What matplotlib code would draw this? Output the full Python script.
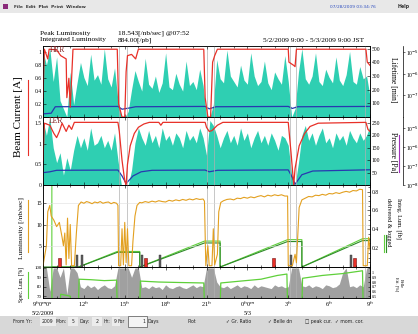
import numpy as np
import matplotlib.pyplot as plt
from matplotlib.lines import Line2D
from matplotlib.patches import Rectangle
from matplotlib.ticker import MultipleLocator, NullLocator

plt.rcParams['font.family'] = ['Liberation Serif', 'DejaVu Serif']
plt.rcParams['font.size'] = 4
plt.rcParams['axes.linewidth'] = 0.5

# time axis: hours after 5/2/2009 9:00 JST
x_ticks = [0, 3, 6, 9, 12, 15, 18, 21, 24]
x_labels = ['9$^h$0$^m$0$^s$', '12$^h$', '15$^h$', '18$^h$', '21$^h$',
            '0$^h$0$^m$', '3$^h$', '6$^h$', '9$^h$']
date_ticks = [0, 15]
date_labels = ['5/2/2009', '5/3']

# 15 minute samples
samples = np.arange(97) * 0.25

# HER beam current [A]
her_cur_t = [0.0, 0.1, 0.35, 0.45, 1.0, 1.3, 1.7, 1.75, 1.9, 2.0, 2.2, 5.45, 5.55, 5.8, 6.0,
             6.1, 6.2, 6.5, 6.8, 7.0, 11.8, 11.9, 12.1, 12.3, 12.45, 12.6, 12.8, 18.0, 18.05,
             18.4, 18.5, 18.6, 23.7, 23.8, 24.0]
her_cur = [0.3, 1.05, 0.9, 1.05, 1.04, 0.95, 0.9, 0.3, 0.6, 0.15, 1.05, 1.05, 0.2, 0.0, 0.0,
           0.7, 0.95, 0.97, 0.9, 1.05, 1.05, 0.3, 0.0, 0.0, 0.85, 0.95, 1.05, 1.05, 0.85,
           0.8, 0.78, 1.05, 1.05, 0.85, 0.8]

# LER beam current [A]
ler_cur_t = [0.0, 0.1, 0.5, 0.8, 1.0, 1.2, 1.4, 1.7, 1.9, 2.1, 2.3, 5.5, 5.6, 5.8, 6.0, 6.1,
             6.2, 6.4, 6.7, 7.0, 7.4, 7.8, 8.5, 8.65, 8.8, 11.9, 12.0, 12.2, 12.4, 12.8, 13.2,
             18.0, 18.2, 18.4, 18.5, 18.8, 19.2, 19.6, 20.2, 23.7, 23.85, 24.0]
ler_cur = [0.6, 1.5, 1.45, 1.25, 1.15, 1.3, 1.5, 1.3, 1.45, 1.35, 1.52, 1.52, 1.3, 0.6, 0.1, 0.0,
           0.5, 0.95, 1.25, 1.4, 1.48, 1.52, 1.52, 1.45, 1.52, 1.52, 1.4, 1.3, 1.32, 1.45, 1.52,
           1.52, 0.8, 0.0, 0.4, 0.95, 1.25, 1.42, 1.5, 1.52, 1.35, 1.3]

# lifetimes [min], 15 min samples
her_life = [480, 380, 500, 260, 440, 120, 60, 0, 330, 90, 250, 400, 290, 230, 460, 270, 310,
            240, 500, 280, 220, 360, 120, 0, 0, 40, 200, 340, 260, 190, 430, 240, 210, 300,
            180, 250, 470, 220, 200, 320, 240, 190, 410, 230, 260, 200, 350, 230, 0, 0, 90,
            420, 280, 250, 490, 300, 260, 220, 380, 270, 240, 470, 300, 230, 260, 410, 250,
            200, 330, 280, 240, 450, 260, 0, 60, 330, 500, 280, 240, 300, 470, 260, 230, 350,
            290, 250, 440, 270, 230, 310, 480, 260, 240, 370, 280, 300, 150]
ler_life = [260, 200, 270, 150, 90, 130, 40, 110, 60, 140, 200, 150, 190, 140, 230, 160, 170,
            200, 150, 180, 140, 210, 100, 0, 0, 0, 60, 170, 230, 190, 160, 220, 170, 200, 150,
            230, 180, 200, 160, 210, 190, 150, 220, 180, 200, 170, 230, 190, 120, 260, 240,
            200, 150, 190, 220, 170, 200, 160, 230, 180, 210, 150, 190, 220, 170, 200, 160,
            210, 180, 140, 200, 190, 160, 40, 0, 90, 200, 240, 180, 210, 160, 200, 230, 170,
            190, 150, 210, 180, 200, 160, 220, 190, 170, 210, 180, 200, 240]

# vacuum pressure [Pa]
her_p_t = [0.0, 0.6, 0.9, 5.5, 5.8, 6.3, 6.8, 11.9, 12.2, 12.7, 18.0, 18.3, 18.7, 24.0]
her_p = [1.4e-8, 1.5e-8, 3.0e-8, 3.1e-8, 2.3e-8, 2.6e-8, 3.0e-8, 3.1e-8, 2.4e-8, 3.0e-8,
         3.1e-8, 2.5e-8, 3.0e-8, 3.1e-8]
ler_p_t = [0.0, 0.5, 1.0, 5.5, 5.8, 6.1, 6.6, 7.2, 8.0, 11.9, 12.2, 12.8, 18.0, 18.3, 18.5,
           19.0, 19.8, 24.0]
ler_p = [4.5e-8, 5e-8, 6e-8, 6.2e-8, 3e-8, 1.2e-8, 3e-8, 5e-8, 6e-8, 6.2e-8, 5e-8, 6e-8,
         6.3e-8, 2.5e-8, 1.1e-8, 3.5e-8, 5.5e-8, 6.4e-8]

# luminosity [/nb/sec]
lum_t = [0.0, 0.25, 0.35, 0.5, 0.6, 0.8, 1.0, 1.2, 1.4, 1.5, 1.6, 1.7, 1.8, 1.9, 2.0, 2.1, 2.3,
         2.45, 2.6,
         2.8, 3.0, 3.2, 3.4, 3.6, 3.8, 4.0, 4.2, 4.4, 4.6, 4.8, 5.0, 5.2, 5.4,
         5.5, 5.55, 5.7, 5.8, 5.9, 6.0, 6.1, 6.2, 6.3, 6.5, 6.6, 6.75, 6.9, 7.1,
         7.25, 7.5, 7.75, 8.0, 8.25, 8.5, 8.75, 9.0, 9.25, 9.5, 9.75, 10.0, 10.25, 10.5, 10.75,
         11.0, 11.25, 11.5, 11.75,
         11.85, 11.95, 12.1, 12.2, 12.4, 12.5, 12.6, 12.8, 12.9, 13.05,
         13.25, 13.5, 13.75, 14.0, 14.25, 14.5, 14.75, 15.0, 15.25, 15.5, 15.75, 16.0, 16.25,
         16.5, 16.75, 17.0, 17.25, 17.5, 17.75,
         17.95, 18.0, 18.3, 18.5, 18.6, 18.8, 19.0,
         19.25, 19.5, 19.75, 20.0, 20.25, 20.5, 20.75, 21.0, 21.25, 21.5, 21.75, 22.0, 22.25,
         22.5, 22.75, 23.0, 23.25,
         23.45, 23.5, 23.8, 23.9, 24.0]
lum = [0.3, 5, 13, 14.5, 12, 11, 9.5, 10.5, 7, 5, 8, 0.5, 11.5, 2, 10, 0.3, 0.3, 8, 14.5,
       15.3, 15.0, 15.4, 15.2, 14.9, 15.3, 15.1, 15.4, 15.0, 15.2, 15.3, 14.9, 15.2, 15.0,
       14.5, 0.3, 0.3, 9, 0.5, 10.5, 1, 9, 0.3, 0.3, 6, 12, 14.5, 15.2,
       15.1, 15.4, 15.2, 15.5, 15.3, 15.6, 15.4, 15.3, 15.7, 15.5, 15.8, 15.6, 15.9, 15.7, 16.0,
       15.8, 16.1, 15.9, 16.0,
       15.5, 0.3, 5, 0.3, 0.3, 9, 0.5, 3, 13, 15.2,
       15.6, 15.9, 16.0, 15.8, 16.2, 16.1, 16.4, 16.2, 16.5, 16.3, 16.6, 16.8, 16.5, 16.9, 16.7,
       17.0, 16.8, 17.0, 16.7,
       16.7, 0.3, 0.3, 3, 1, 14, 15.8,
       16.2, 16.6, 16.5, 16.9, 16.8, 17.1, 16.9, 17.3, 17.2, 17.5, 17.3, 17.6, 17.8, 17.6, 18.0,
       17.9, 18.3,
       18.2, 0.3, 0.3, 7, 4]

# integrated luminosity [/fb]
deliv_t = [0.0, 0.65, 0.65, 2.6, 5.45, 7.1, 7.1, 11.85, 13.0, 13.0, 17.95, 19.0, 19.0, 23.45, 24.0]
deliv = [0.9, 0.9, 0.0, 0.0, 0.165, 0.165, 0.0, 0.275, 0.275, 0.0, 0.29, 0.29, 0.0, 0.3, 0.3]
logged_t = [0.0, 2.6, 5.45, 7.1, 7.1, 11.85, 13.0, 13.0, 17.95, 19.0, 19.0, 23.45, 24.0]
logged = [0.0, 0.0, 0.155, 0.155, 0.0, 0.255, 0.255, 0.0, 0.27, 0.27, 0.0, 0.28, 0.28]

# beam aborts
abort_t = [1.2, 2.5, 2.85, 7.25, 7.55, 8.6, 16.9, 18.2, 22.6, 22.85]
abort_ring = ['HER', 'LER', 'LER', 'LER', 'HER', 'LER', 'HER', 'LER', 'LER', 'HER']

# injection marks
inj_t = [5.6, 6.15, 12.0, 12.55, 18.1, 18.55, 23.6]

# specific luminosity [%]
spec_grey = [100, 100, 75, 100, 100, 90, 100, 72, 100, 100, 95,
             80, 78, 82, 79, 81, 77, 80, 82, 79, 78, 81,
             100, 100, 100, 100, 90, 100, 100,
             79, 80, 78, 81, 79, 80, 77, 82, 79, 78, 80, 81, 79, 78, 80, 82, 79, 81, 80,
             100, 100, 100, 85,
             80, 79, 81, 78, 80, 82, 79, 81, 80, 78, 82, 79, 81, 80, 79, 78, 82, 80, 81, 79, 80,
             100, 100, 100,
             81, 80, 82, 79, 81, 80, 78, 82, 81, 79, 80, 83, 95, 100, 80, 81, 79, 82, 80, 100, 100]
spec_t = [0.0, 0.65, 0.66, 1.25, 1.3, 2.0, 2.05, 2.6, 2.65, 3.5, 4.5, 5.4, 5.45, 7.1, 7.15, 8.5,
          10.0, 11.8, 11.85, 13.0, 13.05, 14.5, 16.0, 17.2, 17.9, 17.95, 19.0, 19.05, 20.5, 22.0,
          23.45, 23.5, 24.0]
spec = [100.5, 100.5, 60, 60, 72, 70, 60, 60, 88, 87.5, 86.5, 87, 60, 60, 86, 85, 84.5, 84, 60,
        60, 84, 86, 88, 92, 93.5, 60, 60, 89, 92, 94, 97, 60, 60]

CYAN = '#2fcfb2'
RED = '#e83028'
BLUE = '#2838b0'
ORANGE = '#e3a020'
DKGREEN = '#2f8a2a'
LTGREEN = '#5fd03a'
PURPLE = '#a030b8'

fig = plt.figure(figsize=(4.18, 3.34), dpi=100)


def fx(x):
    return x / 418


def fy(y):
    return 1 - y / 334


X0, X1 = 43, 370


def panel(top, bottom):
    return fig.add_axes([fx(X0), fy(bottom), fx(X1) - fx(X0), (bottom - top) / 334])


def style_x(ax, labels=False):
    ax.set_xlim(0, 24)
    ax.set_xticks(x_ticks)
    ax.xaxis.set_minor_locator(MultipleLocator(1))
    ax.tick_params(axis='x', which='both', direction='in', top=True, labelbottom=labels,
                   length=2, width=0.4, pad=1.5)
    ax.tick_params(axis='x', which='minor', length=1.2)
    ax.tick_params(axis='y', which='both', direction='in', length=2, width=0.4, pad=1)
    for t in inj_t:
        ax.axvline(t, color='#b0b0b0', lw=0.5, zorder=0.5)


def log_axis(ax, top):
    ax.set_yscale('log')
    ax.set_ylim(1e-8, top)
    ax.spines['right'].set_position(('axes', 1.1))
    for s in ['left', 'top', 'bottom']:
        ax.spines[s].set_visible(False)
    ax.set_yticks([1e-8, 1e-7, 1e-6, 1e-5], labels=['10$^{-8}$', '10$^{-7}$', '10$^{-6}$', '10$^{-5}$'])
    ax.yaxis.set_minor_locator(NullLocator())
    ax.tick_params(axis='y', direction='out', length=1.5, width=0.4, pad=1)
    ax.tick_params(axis='x', which='both', bottom=False, top=False)


# ---- HER ----
ax1 = panel(46, 117)
ax1r = ax1.twinx()
ax1p = ax1.twinx()
ax1.set_zorder(3)
ax1.patch.set_visible(False)
ax1r.patch.set_visible(True)
ax1r.patch.set_facecolor('white')
ax1r.fill_between(samples, her_life, color=CYAN, lw=0)
ax1r.set_ylim(0, 520)
ax1r.set_yticks([100, 200, 300, 400, 500])
ax1r.tick_params(axis='y', direction='in', length=2, width=0.4, pad=1)
ax1r.tick_params(axis='x', which='both', bottom=False, top=False)
ax1p.plot(her_p_t, her_p, color=BLUE, lw=0.9)
log_axis(ax1p, 2e-5)
ax1p.set_yticks([1e-7, 1e-6, 1e-5], labels=['10$^{-7}$', '10$^{-6}$', '10$^{-5}$'])
ax1.plot(her_cur_t, her_cur, color=RED, lw=0.9)
ax1.set_ylim(0, 1.1)
ax1.set_yticks([0, 0.2, 0.4, 0.6, 0.8, 1], labels=['0', '0.2', '0.4', '0.6', '0.8', '1'])
style_x(ax1)
ax1.text(0.5, 1.0, 'HER', color='#802020', fontsize=5.5)

# ---- LER ----
ax2 = panel(117, 185)
ax2r = ax2.twinx()
ax2p = ax2.twinx()
ax2.set_zorder(3)
ax2.patch.set_visible(False)
ax2r.patch.set_visible(True)
ax2r.patch.set_facecolor('white')
ax2r.fill_between(samples, ler_life, color=CYAN, lw=0)
ax2r.set_ylim(0, 274)
ax2r.set_yticks([50, 100, 150, 200, 250])
ax2r.tick_params(axis='y', direction='in', length=2, width=0.4, pad=1)
ax2r.tick_params(axis='x', which='both', bottom=False, top=False)
ax2p.plot(ler_p_t, ler_p, color=BLUE, lw=0.9)
log_axis(ax2p, 4e-5)
ax2.plot(ler_cur_t, ler_cur, color=RED, lw=0.9)
ax2.set_ylim(0, 1.65)
ax2.set_yticks([0, 0.5, 1, 1.5], labels=['0', '0.5', '1', '1.5'])
style_x(ax2)
ax2.text(0.4, 1.5, 'LER', color='#802020', fontsize=5.5)

# ---- luminosity ----
ax3 = panel(185, 267)
ax3r = ax3.twinx()
ax3.set_zorder(3)
ax3.patch.set_visible(False)
ax3r.patch.set_visible(True)
ax3r.patch.set_facecolor('white')
ax3r.plot(deliv_t, deliv, color=LTGREEN, lw=0.8)
ax3r.plot(logged_t, logged, color=DKGREEN, lw=0.8)
ax3r.set_ylim(0, 0.87)
ax3r.set_yticks([0.2, 0.4, 0.6, 0.8])
ax3r.yaxis.set_minor_locator(MultipleLocator(0.05))
ax3r.tick_params(axis='y', which='both', direction='in', length=2, width=0.4, pad=1)
ax3r.tick_params(axis='y', which='minor', length=1.2)
ax3r.tick_params(axis='x', which='both', bottom=False, top=False)
ax3r.grid(axis='x', color='#dddddd', lw=0.4)
ax3r.set_axisbelow(True)
for t, ring in zip(abort_t, abort_ring):
    if ring == 'HER':
        ax3.bar(t, 2.2, width=0.22, color=RED, edgecolor='#701010', lw=0.4)
    else:
        ax3.bar(t, 2.8, width=0.12, color='#606060', edgecolor='#303030', lw=0.3)
ax3.plot(lum_t, lum, color=ORANGE, lw=0.8)
ax3.set_ylim(0, 19.3)
ax3.set_yticks([0, 5, 10, 15], labels=['', '5', '10', '15'])
ax3.grid(axis='y', color='#dddddd', lw=0.4)
style_x(ax3)

# ---- specific luminosity ----
ax4 = panel(267, 298)
ax4r = ax4.twinx()
ax4.set_zorder(3)
ax4.patch.set_visible(False)
ax4r.patch.set_visible(True)
ax4r.patch.set_facecolor('white')
ax4r.fill_between(samples, spec_grey, color='#a0a0a0', lw=0)
ax4r.set_ylim(68, 101)
ax4r.set_yticks([70, 75, 80, 85, 90, 95, 100], labels=['0.5', '0.6', '0.7', '0.8', '0.9', '1', ''])
ax4r.tick_params(axis='y', direction='in', length=1.5, width=0.4, pad=1, labelsize=3)
ax4r.tick_params(axis='x', which='both', bottom=False, top=False)
ax4.plot(spec_t, spec, color=LTGREEN, lw=0.9)
ax4.set_ylim(68, 101)
ax4.set_yticks([70, 80, 90, 100])
ax4.tick_params(axis='y', labelsize=3.5)
style_x(ax4, labels=True)
ax4.set_xticklabels(x_labels, fontsize=4.5)
for t, lab in zip(date_ticks, date_labels):
    ax4.text(t, -0.42, lab, transform=ax4.get_xaxis_transform(), ha='center', va='top',
             fontsize=4.5)

# ---- axis titles ----
fig.text(fx(19), fy(117), 'Beam Current [A]', rotation=90, ha='center', va='center', fontsize=8)
fig.text(fx(21), fy(228), 'Luminosity [/nb/sec]', rotation=90, ha='center', va='center',
         fontsize=5.3)
fig.text(fx(21), fy(284), 'Spec. Lum. [%]', rotation=90, ha='center', va='center', fontsize=4)
fig.text(fx(393), fy(80), 'Lifetime [min]', rotation=270, ha='center', va='center', fontsize=5.5)
fig.text(fx(393), fy(152), 'Pressure [Pa]', rotation=270, ha='center', va='center', fontsize=5.5)
fig.text(fx(398), fy(218), 'Integ. Lum. [fb]', rotation=270, ha='center', va='center', fontsize=4.5)
fig.text(fx(389), fy(222), 'delivered & logged', rotation=270, ha='center', va='center',
         fontsize=4.5)
fig.text(fx(399), fy(284), 'Belle\nEff. [%]', rotation=270, ha='center', va='center', fontsize=3.2)
for x, y0, y1, c in [(28, 80, 155, RED), (28, 200, 252, ORANGE), (28, 272, 298, LTGREEN),
                     (399, 135, 172, PURPLE), (384, 235, 252, LTGREEN), (386, 235, 252, DKGREEN)]:
    fig.add_artist(Line2D([fx(x), fx(x)], [fy(y0), fy(y1)], color=c, lw=0.8))

# ---- header ----
fig.text(fx(40), fy(33), 'Peak Luminosity', fontsize=5.3, va='center')
fig.text(fx(40), fy(40), 'Integrated Luminosity', fontsize=5.3, va='center')
fig.text(fx(118), fy(33), '18.543[/nb/sec] @07:52', fontsize=5.3, va='center')
fig.text(fx(118), fy(40), '884.00[/pb]', fontsize=5.3, va='center')
fig.text(fx(263), fy(40), '5/2/2009 9:00 - 5/3/2009 9:00 JST', fontsize=5.3, va='center')

# ---- window menu bar ----
fig.add_artist(Rectangle((0, fy(13)), 1, 13 / 334, transform=fig.transFigure,
                         facecolor='#e8e8e8', edgecolor='none', zorder=-2))
fig.add_artist(Rectangle((fx(3), fy(9)), 5 / 418, 5 / 334, transform=fig.transFigure,
                         facecolor='#8a2a7a', edgecolor='none'))
fig.text(fx(14), fy(6.5), 'File  Edit  Plot  Print  Window', fontsize=3.2,
         family='DejaVu Sans', fontweight='bold', va='center', color='#333333')
fig.text(fx(330), fy(6.5), '07/28/2009 03:34:76', fontsize=3.2, family='DejaVu Sans',
         va='center', color='#3050c0')
fig.text(fx(398), fy(6.5), 'Help', fontsize=3.4, family='DejaVu Sans', fontweight='bold',
         va='center', color='#333333')

# ---- bottom control bar ----
fig.add_artist(Rectangle((0, 0), 1, 18 / 334, transform=fig.transFigure,
                         facecolor='#d8d8d8', edgecolor='none', zorder=-2))
for x0, w in [(40, 16), (68, 10), (92, 10), (112, 8)]:
    fig.add_artist(Rectangle((fx(x0), fy(326)), w / 418, 9 / 334, transform=fig.transFigure,
                             facecolor='#ececec', edgecolor='none'))
fig.add_artist(Rectangle((fx(128), fy(327)), 19 / 418, 11 / 334, transform=fig.transFigure,
                         facecolor='#f4f4f4', edgecolor='#555555', lw=0.5))
bar_items = [(13, 'From Yr:'), (42, '2009'), (56, 'Mon:'), (72, '5'), (79, 'Day:'),
             (96, '2'), (103, 'Hr:'), (114, '9'), (118, 'For'), (142, '1'), (148, 'Days'),
             (187, 'Plot'), (226, '\u2713 Gr. Ratio'), (268, '\u2713 Belle dn'),
             (305, '\u25a1 peak cur.'), (335, '\u2713 mom. cor.')]
for x, s in bar_items:
    fig.text(fx(x), fy(321.5), s, fontsize=3.3, family='DejaVu Sans', va='center', color='#222222')

fig.savefig('out.png', dpi=100, facecolor='white')
